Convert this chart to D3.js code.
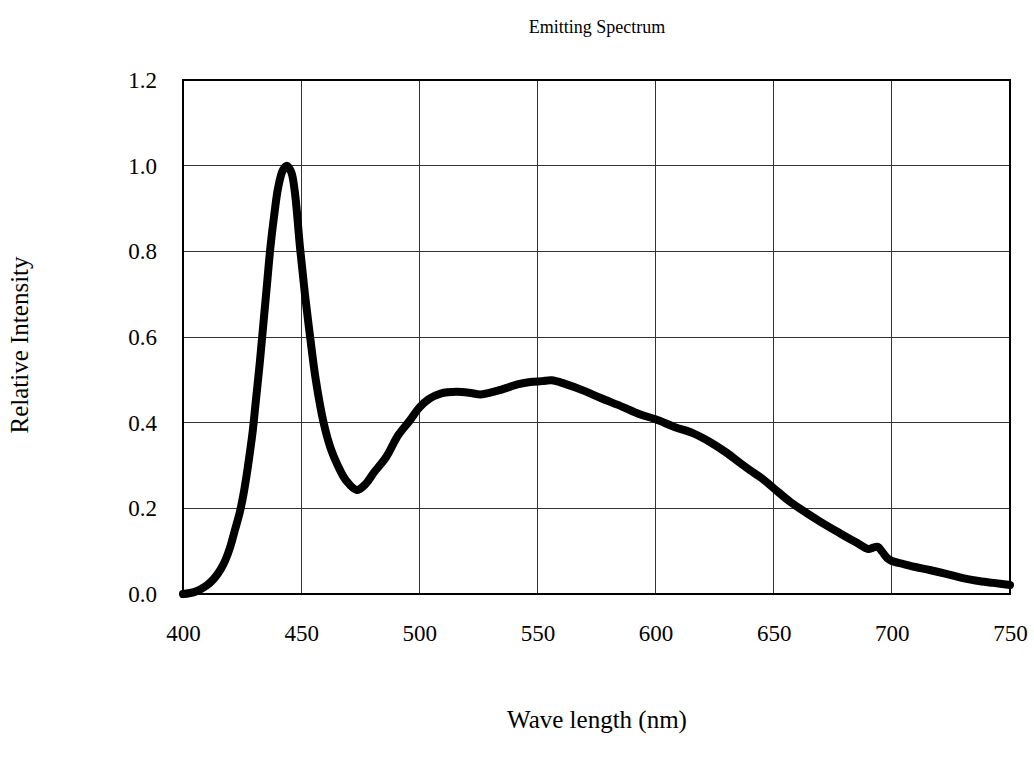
<!DOCTYPE html>
<html>
<head>
<meta charset="utf-8">
<script src="https://d3js.org/d3.v7.min.js"></script>
<style>
  body { margin:0; background:#fff; }
  text { font-family: "Liberation Serif", "Times New Roman", serif; fill:#000; }
  .tick text { font-size: 23px; }
  .grid line { stroke:#333; stroke-width:1; shape-rendering: crispEdges; }
</style>
</head>
<body>
<script>
// wavelength (nm) and relative intensity
var wavelength = [400, 405, 410, 413, 416, 418, 420, 422, 424, 425.5, 427, 428.3, 429.5, 431, 432.5, 434, 435.5, 437, 438.5, 440.3, 442.3, 444, 445.8, 447.3, 449.5, 451.6, 453.8, 456.2, 459.5, 462.5, 465.5, 469, 473.5, 477, 481, 486, 491, 496, 500, 504, 509, 516, 521, 526, 530, 534, 538, 542, 547, 552, 556, 562, 569, 577, 586, 593, 600, 608, 616, 623, 630, 636, 640, 645, 650, 657, 664, 670, 678, 685, 690, 692, 694, 696, 698, 700, 705, 710, 716, 723, 730, 736, 743, 750];
var intensity  = [0.0, 0.005, 0.02, 0.035, 0.058, 0.08, 0.11, 0.15, 0.19, 0.23, 0.28, 0.33, 0.38, 0.46, 0.54, 0.63, 0.72, 0.81, 0.88, 0.95, 0.99, 1.0, 0.985, 0.94, 0.81, 0.7, 0.6, 0.5, 0.4, 0.34, 0.3, 0.265, 0.243, 0.255, 0.285, 0.32, 0.37, 0.405, 0.435, 0.455, 0.468, 0.472, 0.47, 0.466, 0.47, 0.476, 0.483, 0.49, 0.495, 0.497, 0.499, 0.49, 0.476, 0.457, 0.437, 0.42, 0.408, 0.39, 0.375, 0.355, 0.33, 0.305, 0.289, 0.27, 0.247, 0.215, 0.189, 0.168, 0.142, 0.12, 0.105, 0.108, 0.11, 0.098, 0.084, 0.077, 0.07, 0.063, 0.056, 0.047, 0.037, 0.031, 0.026, 0.021];
var xTicks = [400, 450, 500, 550, 600, 650, 700, 750];
var yTicks = [0.0, 0.2, 0.4, 0.6, 0.8, 1.0, 1.2];

var W = 1034, H = 760;
var margin = {top: 80, right: 24, bottom: 166, left: 183};
var w = W - margin.left - margin.right,
    h = H - margin.top - margin.bottom;

var svg = d3.select("body").append("svg")
    .attr("width", W)
    .attr("height", H);

var x = d3.scaleLinear().domain([400, 750]).range([0, w]);
var y = d3.scaleLinear().domain([0, 1.2]).range([h, 0]);

var g = svg.append("g").attr("transform", "translate(" + margin.left + "," + margin.top + ")");

// grid
g.append("g").attr("class", "grid")
  .selectAll("line").data(xTicks.slice(1, -1)).enter().append("line")
  .attr("x1", function(d) { return x(d); }).attr("x2", function(d) { return x(d); })
  .attr("y1", 0).attr("y2", h);
g.append("g").attr("class", "grid")
  .selectAll("line").data(yTicks.slice(1, -1)).enter().append("line")
  .attr("y1", function(d) { return y(d); }).attr("y2", function(d) { return y(d); })
  .attr("x1", 0).attr("x2", w);

// axes (labels only)
var xAxis = d3.axisBottom(x).tickValues(xTicks).tickSize(0).tickPadding(31).tickFormat(d3.format("d"));
var yAxis = d3.axisLeft(y).tickValues(yTicks).tickSize(0).tickPadding(26).tickFormat(d3.format(".1f"));
g.append("g").attr("transform", "translate(0," + h + ")").call(xAxis)
  .call(function(s) { s.select(".domain").remove(); });
g.append("g").call(yAxis)
  .call(function(s) { s.select(".domain").remove(); });

// curve
var data = wavelength.map(function(d, i) { return [d, intensity[i]]; });
g.append("path")
  .datum(data)
  .attr("fill", "none")
  .attr("stroke", "#000")
  .attr("stroke-width", 8)
  .attr("stroke-linejoin", "round")
  .attr("stroke-linecap", "round")
  .attr("d", d3.line().x(function(d) { return x(d[0]); }).y(function(d) { return y(d[1]); }).curve(d3.curveCatmullRom.alpha(0.5)));

// frame
g.append("rect")
  .attr("width", w).attr("height", h)
  .attr("fill", "none").attr("stroke", "#000").attr("stroke-width", 2);

// titles
svg.append("text").attr("x", 597).attr("y", 33).attr("text-anchor", "middle")
  .style("font-size", "18px").text("Emitting Spectrum");
svg.append("text").attr("x", 597).attr("y", 728).attr("text-anchor", "middle")
  .style("font-size", "25px").text("Wave length (nm)");
svg.append("text").attr("transform", "translate(28,345) rotate(-90)").attr("text-anchor", "middle")
  .style("font-size", "25px").text("Relative Intensity");
</script>
</body>
</html>
